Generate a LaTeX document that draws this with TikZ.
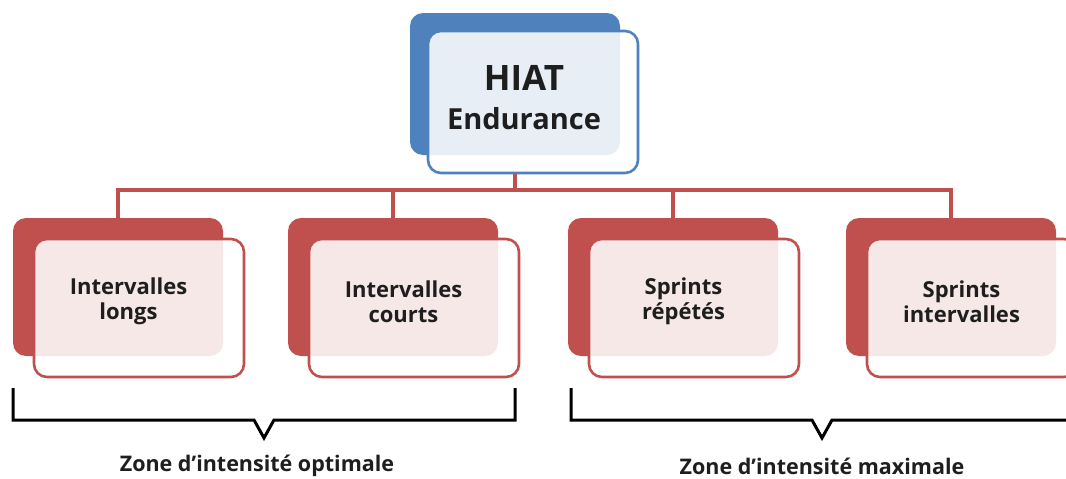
\documentclass[tikz,border=0pt]{standalone}
\usepackage{fontspec}
\setmainfont{Open Sans}
\usetikzlibrary{calc,positioning}

\definecolor{hiatred}{HTML}{C0504D}
\definecolor{hiatblue}{HTML}{4F81BD}
\definecolor{hiattext}{HTML}{1E1E1E}

\tikzset{
  back/.style={rectangle, rounded corners=13pt, inner sep=0pt,
    minimum width=210pt, minimum height=138pt},
  front/.style={back, line width=2.6pt, fill=white, fill opacity=0.87},
  boxtext/.style={align=center, text=hiattext, font=\fontsize{22}{25}\selectfont\bfseries},
  link/.style={hiatred, line width=3.6pt},
  bracket/.style={black, line width=3pt, line join=miter},
  zone/.style={text=hiattext, inner sep=1pt, font=\fontsize{21.5}{25}\selectfont\bfseries}
}

\begin{document}
\begin{tikzpicture}[x=1pt,y=-1pt]
  \useasboundingbox (0,0) rectangle (1066,479);
  % top box
  \node[back, fill=hiatblue, minimum height=142pt] (hiatback) at (515,84) {};
  \node[front, draw=hiatblue, minimum height=142pt] (hiat) at (533,102) {};
  \node[boxtext, font=\bfseries] (hiattxt) at ($(hiatback)!0.5!(hiat)+(0,4.5)$)
    {{\fontsize{35}{40}\selectfont HIAT}\\[16pt]{\fontsize{29}{36}\selectfont Endurance}};
  % lower boxes
  \foreach \name/\x/\txt in {longs/118/Intervalles\\longs, courts/393/Intervalles\\courts,
      repetes/673/Sprints\\répétés, sprints/951/Sprints\\intervalles}{
    \node[back, fill=hiatred] (\name back) at (\x,287) {};
    \node[front, draw=hiatred] (\name) at (\x+21,308) {};
    \node[boxtext] (\name txt) at ($(\name back)!0.5!(\name)+(0,4)$) {\txt};
    \draw[link] (hiatback.center |- hiat.south) -- (hiatback.center |- 0,190) -| (\name back.north);
  }
  % zones
  \foreach \a/\b/\name/\txt/\dx in {13/515/zoneopt/optimale/-7, 571/1073/zonemax/maximale/0}{
    \draw[bracket] (\a,388) -- (\a,420) -- ({(\a+\b)/2-10},420) -- ({(\a+\b)/2},438)
      -- ({(\a+\b)/2+10},420) -- (\b,420) -- (\b,388);
    \node[zone] (\name) at ({(\a+\b)/2+\dx},466) {Zone d’intensité \txt};
  }
\end{tikzpicture}
\end{document}
